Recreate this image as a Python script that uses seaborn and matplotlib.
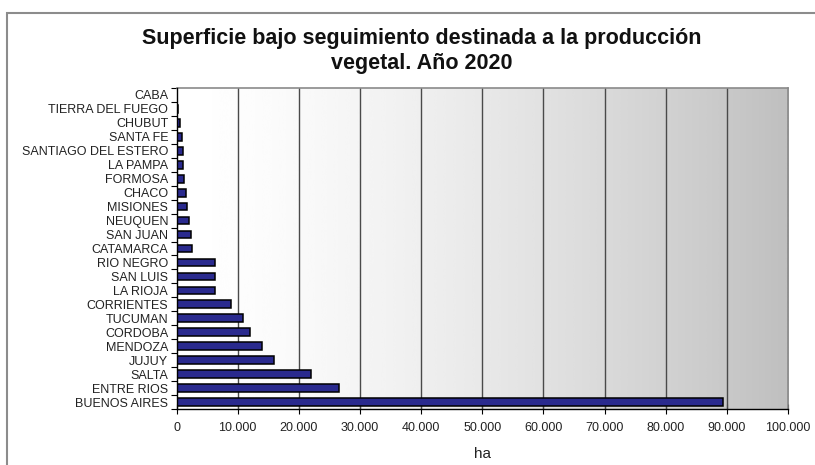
import numpy as np
import pandas as pd
import matplotlib
matplotlib.use("Agg")
import matplotlib.pyplot as plt
from matplotlib.patches import Rectangle
from matplotlib.ticker import FuncFormatter, FixedLocator
import seaborn as sns

provincias = [
    "CABA", "TIERRA DEL FUEGO", "CHUBUT", "SANTA FE", "SANTIAGO DEL ESTERO",
    "LA PAMPA", "FORMOSA", "CHACO", "MISIONES", "NEUQUEN", "SAN JUAN",
    "CATAMARCA", "RIO NEGRO", "SAN LUIS", "LA RIOJA", "CORRIENTES",
    "TUCUMAN", "CORDOBA", "MENDOZA", "JUJUY", "SALTA", "ENTRE RIOS",
    "BUENOS AIRES",
]
hectareas = [
    100, 200, 500, 900, 1100,
    1000, 1300, 1600, 1700, 2100, 2300,
    2600, 6300, 6300, 6300, 8850,
    10900, 12000, 14000, 16000, 22000, 26500,
    89300,
]
x_ticks = list(range(0, 100001, 10000))

df = pd.DataFrame({"provincia": provincias, "ha": hectareas})

sns.set_theme(style="white")
plt.rcParams["font.family"] = ["Liberation Sans", "DejaVu Sans"]

W, H = 815, 465
fig = plt.figure(figsize=(W / 100, H / 100), dpi=100)
fig.patch.set_facecolor("white")

# outer chart frame (left and top edges visible)
fig.add_artist(Rectangle((7 / W, -0.2), 1.2, 1.2 - 13 / H,
                         transform=fig.transFigure, fill=False,
                         edgecolor="#8c8c8c", linewidth=1.5, zorder=0))

left, right, top, bottom = 176.5 / W, 788 / W, 1 - 88 / H, 1 - 409 / H
ax = fig.add_axes([left, bottom, right - left, top - bottom])

# horizontal white-to-grey gradient behind the bars
t = np.linspace(0, 1, 256)
grad = (1.0 - 0.25 * t ** 1.5).reshape(1, -1)
ax.imshow(grad, cmap="gray", vmin=0, vmax=1, aspect="auto",
          extent=[0, 1, 0, 1], transform=ax.transAxes, zorder=0,
          interpolation="bicubic")

sns.barplot(data=df, y="provincia", x="ha", order=provincias, orient="h",
            color="#2a2a8e", edgecolor="black", linewidth=1.1,
            width=0.55, saturation=1, ax=ax, zorder=3)

ax.set_xlim(0, 100000)
ax.set_ylim(len(provincias) - 0.5, -0.5)
ax.xaxis.set_major_locator(FixedLocator(x_ticks))
ax.xaxis.set_major_formatter(
    FuncFormatter(lambda v, p: f"{int(v):,}".replace(",", ".")))

for xv in x_ticks[1:-1]:
    ax.axvline(xv, color="#4a4a4a", linewidth=1.0, zorder=2)

for side in ("top", "right"):
    ax.spines[side].set_color("#8a8a8a")
    ax.spines[side].set_linewidth(1.2)
ax.spines["left"].set_color("black")
ax.spines["left"].set_linewidth(1.0)
ax.spines["bottom"].set_color("black")
ax.spines["bottom"].set_linewidth(1.0)
ax.spines["left"].set_zorder(4)

# category tick marks sit on the boundaries between bars
ax.tick_params(axis="y", which="major", length=0, pad=6,
               labelsize=9, labelcolor="#222222")
ax.yaxis.set_minor_locator(FixedLocator(np.arange(-0.5, len(provincias), 1.0)))
ax.tick_params(axis="y", which="minor", left=True, length=4, width=0.8,
               direction="out", color="black")
ax.tick_params(axis="x", which="major", bottom=True, length=7, width=0.8,
               direction="inout", color="black", labelsize=9,
               labelcolor="#222222", pad=6)

ax.set_ylabel("")
ax.set_xlabel("ha", fontsize=11, labelpad=9, color="#222222")

fig.text(422 / W, 1 - 51 / H,
         "Superficie bajo seguimiento destinada a la producción\nvegetal. Año 2020",
         ha="center", va="center", fontsize=15.5, fontweight="bold",
         linespacing=1.2, color="#111111")

fig.savefig("out.png", dpi=100)
